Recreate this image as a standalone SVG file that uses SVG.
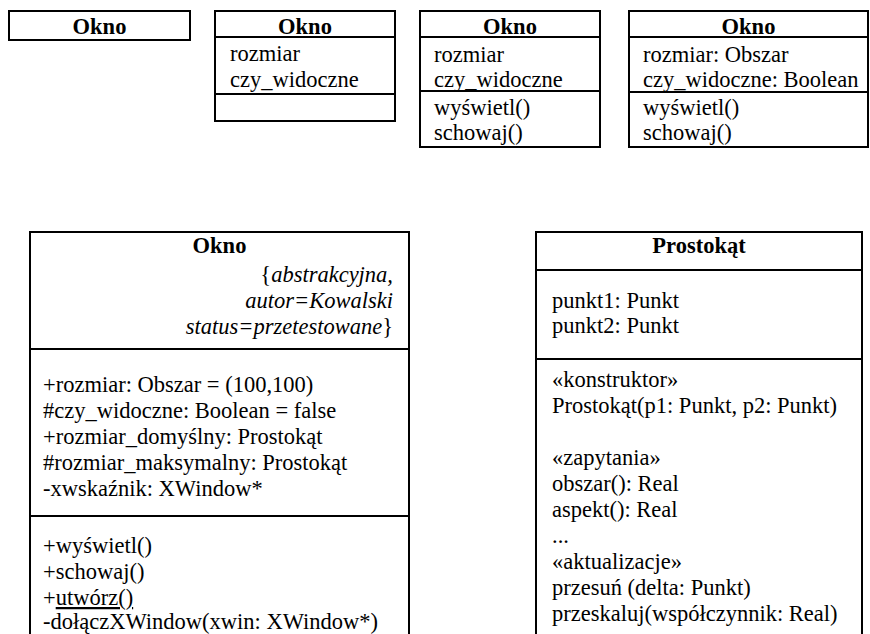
<svg xmlns="http://www.w3.org/2000/svg" width="870" height="634" viewBox="0 0 870 634">
<style>
.t{font-weight:bold;text-anchor:middle}
.i{font-style:italic}
.r{text-anchor:end}
.box{fill:#fff;stroke:#000;stroke-width:2}
.sep{stroke:#000;stroke-width:2}
.u{text-decoration:underline}
</style>
<rect width="870" height="634" fill="#fff"/>
<g font-family="'Liberation Serif', 'Times New Roman', serif" font-size="22.5" fill="#000">
<g id="okno1">
<rect class="box" x="9" y="11" width="181" height="29"/>
<text class="t" x="99.5" y="34">Okno</text>
</g>
<g id="okno2">
<rect class="box" x="215" y="11" width="180" height="110"/>
<line class="sep" x1="215" y1="37" x2="395" y2="37"/>
<line class="sep" x1="215" y1="94" x2="395" y2="94"/>
<text class="t" x="305" y="34">Okno</text>
<text x="230" y="61">rozmiar</text>
<text x="230" y="87">czy_widoczne</text>
</g>
<g id="okno3">
<rect class="box" x="420" y="11" width="180" height="136"/>
<line class="sep" x1="420" y1="37" x2="600" y2="37"/>
<line class="sep" x1="420" y1="91" x2="600" y2="91"/>
<text class="t" x="510" y="34">Okno</text>
<text x="434" y="62">rozmiar</text>
<text x="434" y="87">czy_widoczne</text>
<text x="434" y="115">wyświetl()</text>
<text x="434" y="140">schowaj()</text>
</g>
<g id="okno4">
<rect class="box" x="629" y="11" width="239" height="136"/>
<line class="sep" x1="629" y1="37" x2="868" y2="37"/>
<line class="sep" x1="629" y1="92" x2="868" y2="92"/>
<text class="t" x="748.5" y="34">Okno</text>
<text x="643" y="62">rozmiar: Obszar</text>
<text x="643" y="87">czy_widoczne: Boolean</text>
<text x="643" y="115">wyświetl()</text>
<text x="643" y="140">schowaj()</text>
</g>
<g id="okno5">
<rect class="box" x="30" y="232" width="379" height="420"/>
<line class="sep" x1="30" y1="349" x2="409" y2="349"/>
<line class="sep" x1="30" y1="516" x2="409" y2="516"/>
<text class="t" x="219.5" y="253">Okno</text>
<text class="r" x="393" y="282">{<tspan class="i">abstrakcyjna,</tspan></text>
<text class="r i" x="393" y="308">autor=Kowalski</text>
<text class="r" x="393" y="334"><tspan class="i">status=przetestowane</tspan>}</text>
<text x="43" y="392">+rozmiar: Obszar = (100,100)</text>
<text x="43" y="418">#czy_widoczne: Boolean = false</text>
<text x="43" y="444">+rozmiar_domyślny: Prostokąt</text>
<text x="43" y="470">#rozmiar_maksymalny: Prostokąt</text>
<text x="43" y="496">-xwskaźnik: XWindow*</text>
<text x="43" y="553">+wyświetl()</text>
<text x="43" y="579">+schowaj()</text>
<text x="43" y="605">+<tspan class="u">utwórz()</tspan></text>
<text x="43" y="629">-dołączXWindow(xwin: XWindow*)</text>
</g>
<g id="prostokat">
<rect class="box" x="536" y="232" width="326" height="420"/>
<line class="sep" x1="536" y1="270" x2="862" y2="270"/>
<line class="sep" x1="536" y1="359" x2="862" y2="359"/>
<text class="t" x="699" y="253">Prostokąt</text>
<text x="552" y="308">punkt1: Punkt</text>
<text x="552" y="333">punkt2: Punkt</text>
<text x="552" y="387">«konstruktor»</text>
<text x="552" y="413">Prostokąt(p1: Punkt, p2: Punkt)</text>
<text x="552" y="465">«zapytania»</text>
<text x="552" y="491">obszar(): Real</text>
<text x="552" y="517">aspekt(): Real</text>
<text x="552" y="543">...</text>
<text x="552" y="569">«aktualizacje»</text>
<text x="552" y="595">przesuń (delta: Punkt)</text>
<text x="552" y="621">przeskaluj(współczynnik: Real)</text>
</g>
</g>
</svg>
